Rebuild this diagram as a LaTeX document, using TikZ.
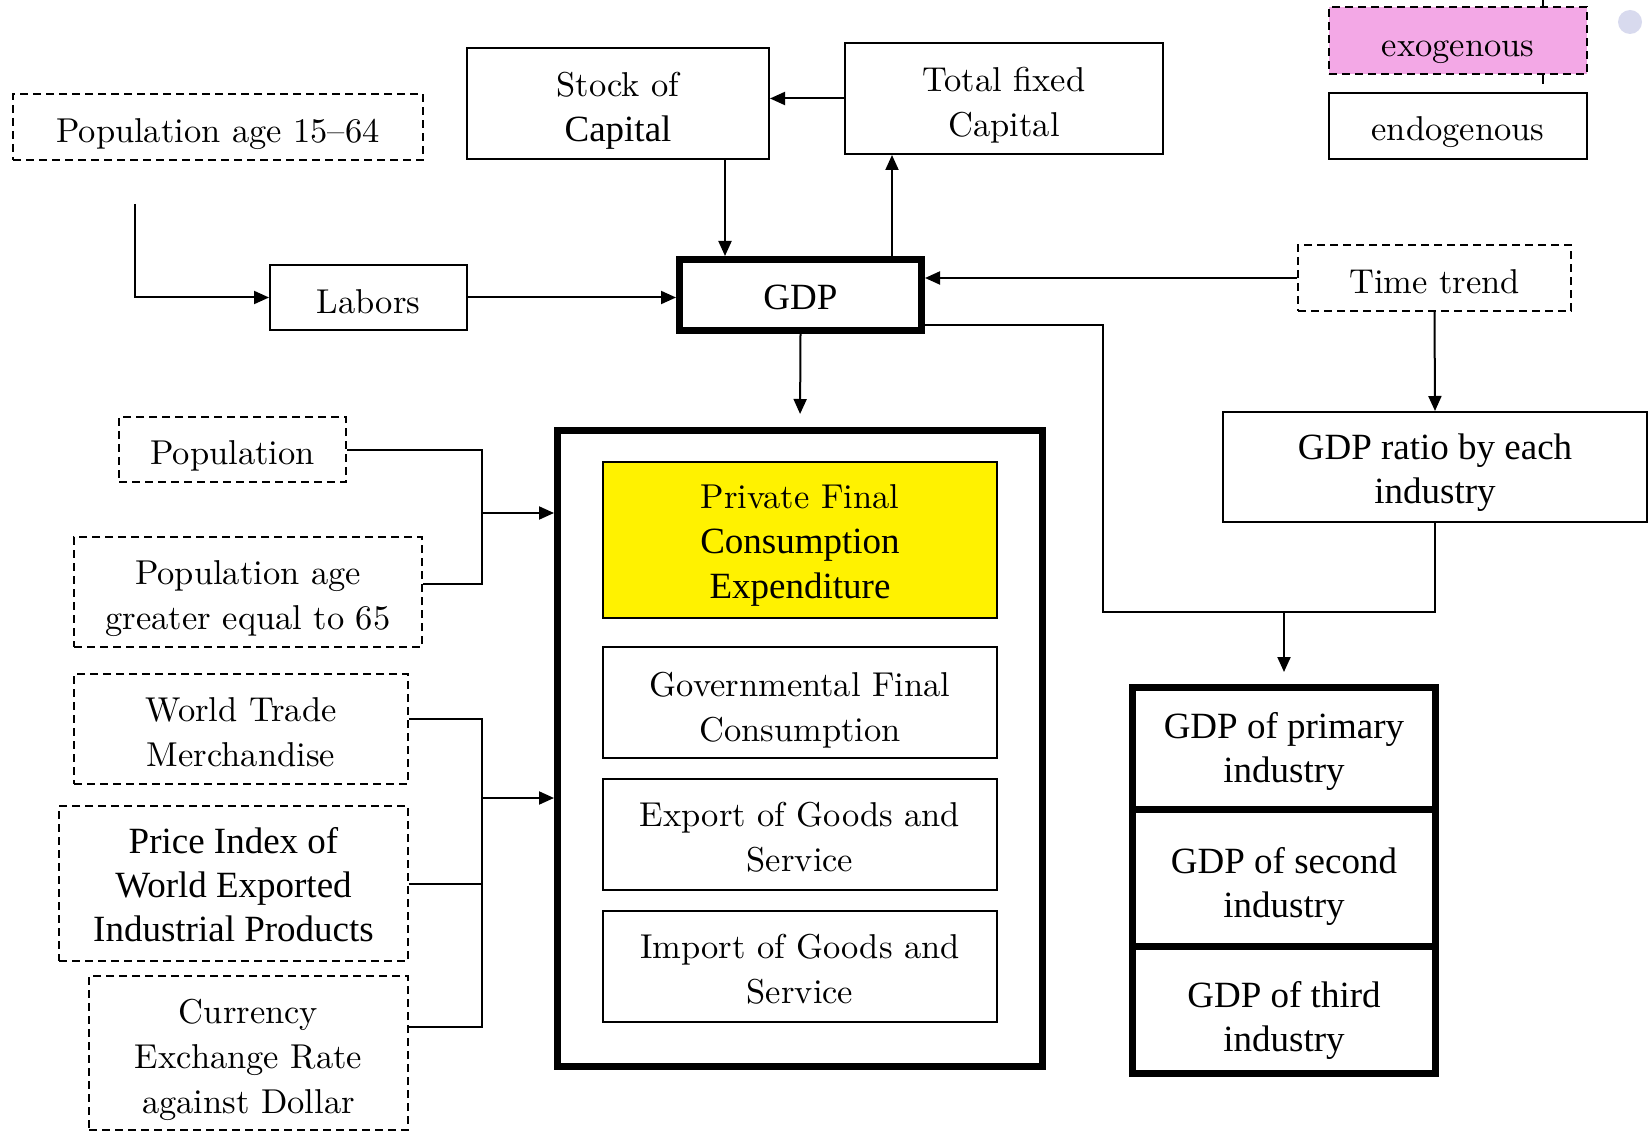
\documentclass[tikz,border=0pt]{standalone}
\usepackage{fontspec}
\usetikzlibrary{arrows.meta}
\newfontfamily\tms{Liberation Serif}
\newfontfamily\bat{lmroman10-regular.otf}[Ligatures=TeX]
\definecolor{exopink}{RGB}{243,168,230}
\definecolor{dotgrey}{RGB}{216,218,238}
\newcommand{\lmf}{\bat\fontsize{34.5}{45}\selectfont}
\newcommand{\tmf}{\tms\fontsize{37}{44}\selectfont}

\tikzset{
 box/.style={draw, line width=2pt, inner sep=0pt, align=center, font=\lmf, headroom=36},
 dbox/.style={box, dash pattern=on 8pt off 5pt},
 heavy/.style={box, line width=7pt},
 sz/.style 2 args={minimum width=#1pt, minimum height=#2pt},
 headroom/.style={execute at begin node={\rule{0pt}{#1pt}}},
 footroom/.style={execute at end node={\rule[-#1pt]{0pt}{#1pt}}},
 arr/.style={line width=2pt, -{Triangle[length=15pt,width=13pt]}},
 link/.style={line width=2pt}
}

\begin{document}
\begin{tikzpicture}[x=1pt, y=-1pt]
 \useasboundingbox (0,0) rectangle (1652,1131);

 \node[dbox, sz={258}{67}, fill=exopink, headroom=40] (exo) at (1458,40.5) {exogenous};
 \node[box, sz={258}{66}, headroom=31] (endo) at (1458,126) {endogenous};
 \fill[dotgrey] (1630,22) circle (12pt);
 \draw[link] ([xshift=85pt]exo.north) -- ++(0,-7);
 \draw[link] ([xshift=85pt]exo.south) -- ++(0,9);

 \node[dbox, sz={410}{66}, headroom=39] (pop1564) at (218,127) {Population age 15--64};
 \node[box, sz={197}{65}, headroom=24, footroom=4] (labors) at (368.5,297.5) {Labors};
 \node[box, sz={302}{111}, headroom=83] (stock) at (618,103.5) {Stock of\\{\tmf Capital}};
 \node[box, sz={318}{111}, headroom=82] (total) at (1004,98.5) {Total fixed\\Capital};
 \node[heavy, sz={242}{71}, font=\tmf, headroom=20, footroom=6] (gdp) at (800.5,295) {GDP};
 \node[dbox, sz={273}{66}, headroom=24, footroom=4] (trend) at (1434.5,278) {Time trend};
 \node[box, sz={424}{110}, font=\tmf, headroom=80] (ratio) at (1435,467) {GDP ratio by each\\industry};

 \node[heavy, sz={485}{636}] (demand) at (800,748.5) {};
 \node[box, sz={394}{156}, fill=yellow, headroom=125] (pfce) at (800,540) {Private Final\\{\tmf Consumption}\\{\tmf Expenditure}};
 \node[box, sz={394}{111}, headroom=84] (gfc) at (800,702.5) {Governmental Final\\Consumption};
 \node[box, sz={394}{111}, headroom=74] (exp) at (800,834.5) {Export of Goods and\\Service};
 \node[box, sz={394}{111}, headroom=74] (imp) at (800,966.5) {Import of Goods and\\Service};

 \node[dbox, sz={227}{65}, headroom=34] (pop) at (232.5,449.5) {Population};
 \node[dbox, sz={348}{110}, headroom=83] (pop65) at (248,592) {Population age\\greater equal to 65};
 \node[dbox, sz={334}{110}, headroom=76] (wtm) at (241,729) {World Trade\\Merchandise};
 \node[dbox, sz={349}{155}, font=\tmf, headroom=116] (price) at (233.5,883.5) {Price Index of\\World Exported\\Industrial Products};
 \node[dbox, sz={319}{154}, headroom=128] (cur) at (248.5,1053) {Currency\\Exchange Rate\\against Dollar};

 \node[heavy, sz={303}{121.5}, font=\tmf, headroom=76] (prim) at (1284,748.25) {GDP of primary\\industry};
 \node[heavy, sz={303}{137}, font=\tmf, headroom=87] (sec) at (1284,877.5) {GDP of second\\industry};
 \node[heavy, sz={303}{127.5}, font=\tmf, headroom=91] (third) at (1284,1009.75) {GDP of third\\industry};

 \coordinate (src) at (135,204);
 \draw[arr] (src) |- (labors.west);
 \draw[arr] (labors.east) -- (labors.east -| gdp.west);
 \draw[arr] ([xshift=107pt]stock.south) -- ([xshift=-75.5pt]gdp.north);
 \draw[arr] (total.west) -- (total.west -| stock.east);
 \draw[arr] ([xshift=91.5pt]gdp.north) -- ([xshift=-112pt]total.south);
 \draw[arr] (trend.west) -- (trend.west -| gdp.east);
 \draw[arr] (trend.south) -- (ratio.north);
 \draw[arr, shorten >=13pt] (gdp.south) -- (demand.north);

 \coordinate (merge) at (1284,612);
 \draw[link] ([yshift=-30pt]gdp.east) -| ([xshift=-181pt]merge) -- (merge -| ratio.south) -- (ratio.south);
 \draw[arr, shorten >=12pt] (merge) -- (prim.north);

 \coordinate (busa) at (482,513);
 \draw[link] (pop.east) -| (busa) |- ([yshift=8pt]pop65.east);
 \draw[arr] (busa) -- (busa -| demand.west);

 \coordinate (busb) at (482,798);
 \draw[link] ([yshift=10pt]wtm.east) -| (busb) |- ([yshift=26pt]cur.east);
 \draw[link] (price.east) -- (price.east -| busb);
 \draw[arr] (busb) -- (busb -| demand.west);
\end{tikzpicture}
\end{document}
